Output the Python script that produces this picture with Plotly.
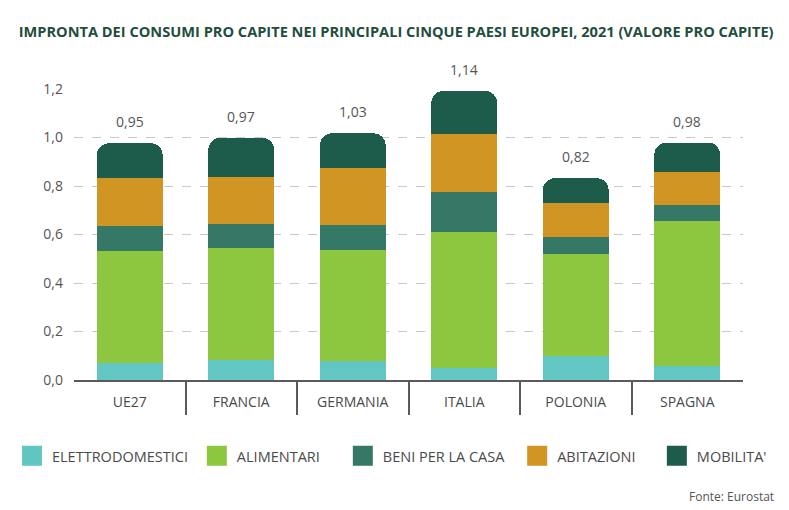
import plotly.graph_objects as go

categories = ["UE27", "FRANCIA", "GERMANIA", "ITALIA", "POLONIA", "SPAGNA"]
series_names = ["ELETTRODOMESTICI", "ALIMENTARI", "BENI PER LA CASA", "ABITAZIONI", "MOBILITA'"]
elettrodomestici = [0.069, 0.082, 0.078, 0.051, 0.099, 0.058]
alimentari = [0.463, 0.464, 0.458, 0.559, 0.419, 0.599]
beni_casa = [0.104, 0.097, 0.103, 0.167, 0.073, 0.065]
abitazioni = [0.198, 0.195, 0.237, 0.236, 0.140, 0.137]
mobilita = [0.142, 0.161, 0.141, 0.179, 0.101, 0.120]
totals = [0.95, 0.97, 1.03, 1.14, 0.82, 0.98]
y_ticks = [0.0, 0.2, 0.4, 0.6, 0.8, 1.0, 1.2]

colors = ["#62C6C3", "#8DC63F", "#357865", "#D09523", "#1D5B4A"]
series_values = [elettrodomestici, alimentari, beni_casa, abitazioni, mobilita]

FONT = "Open Sans"
TXT = "#4a4a4a"

fig = go.Figure()
for name, vals, col in zip(series_names, series_values, colors):
    fig.add_trace(go.Bar(
        x=categories, y=vals, name=name, marker_color=col,
        marker_line_width=0, showlegend=False, hoverinfo="skip",
        marker_cornerradius=12,
    ))

# legend-only entries with larger swatches
legend_x = [0.0152, 0.2495, 0.4345, 0.6555, 0.8325]
for i, (name, col) in enumerate(zip(series_names, colors)):
    lg = "legend" if i == 0 else f"legend{i+1}"
    fig.add_trace(go.Scatter(
        x=[None], y=[None], name=name, mode="markers", legend=lg,
        marker=dict(symbol="square", size=16, color=col, line=dict(color=col, width=4)),
        hoverinfo="skip",
    ))

# invisible trace on overlay axis for separators
fig.add_trace(go.Scatter(x=[categories[0]], y=[0], xaxis="x2", mode="markers",
                         marker_opacity=0, showlegend=False, hoverinfo="skip"))

stack_tops = [sum(v) for v in zip(*series_values)]
for c, top, t in zip(categories, stack_tops, totals):
    fig.add_annotation(x=c, y=top, text=f"{t:.2f}".replace(".", ","),
                       showarrow=False, yanchor="bottom", yshift=10,
                       font=dict(family=FONT, size=14, color="#555555"))

legend_common = dict(orientation="h", yanchor="middle", xanchor="left",
                     xref="container", yref="container", y=0.106,
                     font=dict(family=FONT, size=14.5, color=TXT), bgcolor="rgba(0,0,0,0)",
                     itemclick=False, itemdoubleclick=False)
layout_legends = {}
for i, lx in enumerate(legend_x):
    key = "legend" if i == 0 else f"legend{i+1}"
    layout_legends[key] = dict(legend_common, x=lx)

fig.update_layout(
    barmode="stack",
    bargap=0.41,
    width=789, height=510,
    margin=dict(l=74, r=46, t=89, b=130, autoexpand=False),
    paper_bgcolor="white", plot_bgcolor="white",
    separators=",.",
    font=dict(family=FONT, color=TXT),
    title=dict(text="<b>IMPRONTA DEI CONSUMI PRO CAPITE NEI PRINCIPALI CINQUE PAESI EUROPEI, 2021 (VALORE PRO CAPITE)</b>",
               x=0.502, xanchor="center", xref="container", y=0.937, yanchor="middle", yref="container",
               font=dict(family=FONT, size=14.6, color="#1F4E3D")),
    xaxis=dict(categoryorder="array", categoryarray=categories, range=[-0.5, 5.5],
               showline=True, linecolor="#5a5a5a", linewidth=2, ticks="",
               ticklabelstandoff=8, tickfont=dict(family=FONT, size=14, color=TXT),
               showgrid=False, fixedrange=True),
    xaxis2=dict(overlaying="x", anchor="y", side="bottom", range=[-0.5, 5.5],
                categoryorder="array", categoryarray=categories,
                tickmode="array", tickvals=[0.5, 1.5, 2.5, 3.5, 4.5],
                ticks="outside", ticklen=34, tickwidth=2, tickcolor="#5a5a5a",
                showticklabels=False, showgrid=False, showline=False, zeroline=False),
    yaxis=dict(range=[0, 1.2], tickmode="array", tickvals=y_ticks,
               ticktext=[f"{v:.1f}".replace(".", ",") for v in y_ticks],
               showgrid=True, gridcolor="#c8c8c8", griddash="dash", gridwidth=1,
               zeroline=False, showline=False, ticks="", ticklabelstandoff=10,
               tickfont=dict(family=FONT, size=14, color="#555555")),
    **layout_legends,
)

fig.add_annotation(text="Fonte: Eurostat", xref="paper", yref="paper",
                   x=1.05, y=-0.40, xanchor="right", yanchor="middle", showarrow=False,
                   font=dict(family=FONT, size=12, color="#555555"))

fig.write_html("out.html")
